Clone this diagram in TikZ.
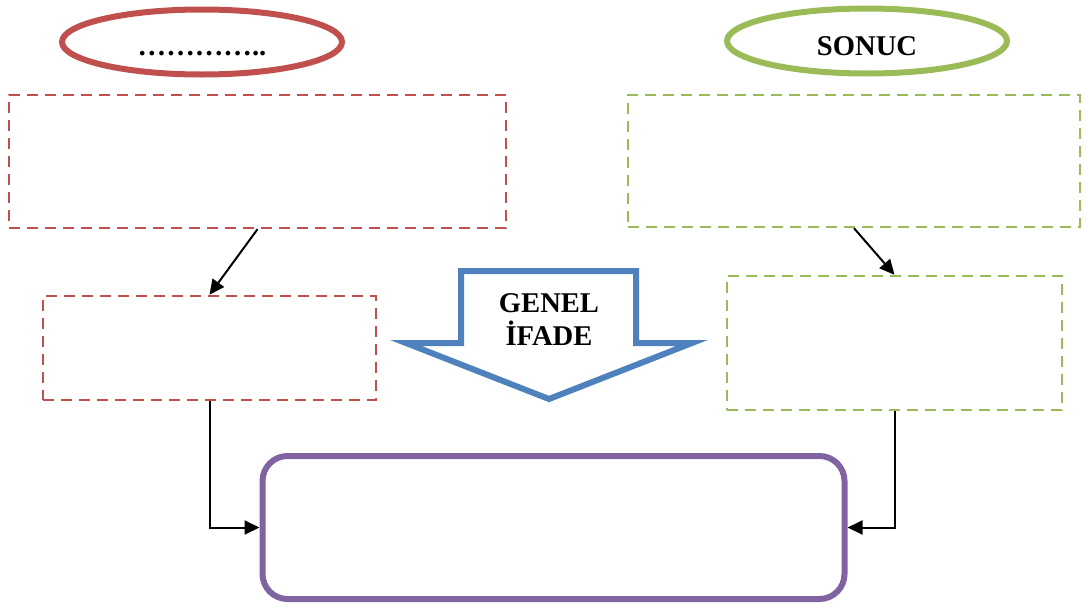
\documentclass[tikz,border=0pt]{standalone}
\usepackage{fontspec}
\setmainfont{Liberation Serif}
\usetikzlibrary{arrows.meta,shapes.geometric}
\definecolor{cred}{HTML}{C0504D}
\definecolor{cgreen}{HTML}{9BBB59}
\definecolor{cblue}{HTML}{4F81BD}
\definecolor{cpurple}{HTML}{8064A2}
\tikzset{
  oval/.style={ellipse, line width=6pt, minimum width=280pt, minimum height=65pt, inner sep=0pt},
  dbox/.style={rectangle, line width=2.4pt, dash pattern=on 11pt off 7pt, inner sep=0pt},
  lbl/.style={font=\fontsize{28.6}{33}\selectfont\bfseries, anchor=base, inner sep=0pt},
  conn/.style={line width=2pt, -{Triangle[length=15pt,width=14pt]}},
}
\begin{document}
\begin{tikzpicture}[x=1pt,y=-1pt]
\useasboundingbox (0,0) rectangle (1089,608);
% headings
\node[oval, draw=cred] (e1) at (202,42) {};
\node[oval, draw=cgreen] (e2) at (867,41) {};
\node[lbl] (t1) at (202,55) {…………..};
\node[lbl] (t2) at (867,55) {SONUC};
% dashed boxes
\node[dbox, draw=cred, minimum width=497pt, minimum height=133pt] (r1) at (257.5,161.5) {};
\node[dbox, draw=cred, minimum width=333pt, minimum height=104pt] (r2) at (209.5,348) {};
\node[dbox, draw=cgreen, minimum width=452pt, minimum height=132pt] (g1) at (854,161) {};
\node[dbox, draw=cgreen, minimum width=335pt, minimum height=134pt] (g2) at (894.5,343) {};
% result box
\node[rectangle, rounded corners=25pt, draw=cpurple, line width=6pt,
      minimum width=582pt, minimum height=143pt] (p) at (553.5,527.5) {};
% block arrow
\draw[cblue, line width=6pt, line join=miter]
  (461,271) -- (636,271) -- (636,343) -- (692,343) -- (549,399)
  -- (406,343) -- (461,343) -- cycle;
\node[lbl] (a1) at (549,312) {GENEL};
\node[lbl] (a2) at (549,345) {İFADE};
% connectors
\draw[conn] (r1.south) -- (r2.north);
\draw[conn] (g1.south) -- (g2.north);
\draw[conn] (r2.south) |- (p.west);
\draw[conn] (g2.south) |- (p.east);
\end{tikzpicture}
\end{document}
